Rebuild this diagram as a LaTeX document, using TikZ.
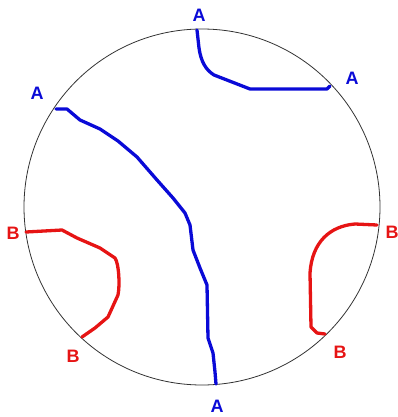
\documentclass[tikz,border=0pt]{standalone}
\usepackage{fontspec}
\setsansfont{Liberation Sans}
\usepackage{tikz}
\usetikzlibrary{positioning}

\definecolor{pathblue}{RGB}{10,10,215}
\definecolor{pathred}{RGB}{230,20,20}

\begin{document}
\begin{tikzpicture}[x=1pt,y=-1pt,
  lbl/.style={font=\sffamily\bfseries\fontsize{18}{18}\selectfont},
  bluepath/.style={pathblue,line width=3.3pt,line cap=round,line join=round},
  redpath/.style={pathred,line width=3.3pt,line cap=round,line join=round}]
\useasboundingbox (0,0) rectangle (398,417);

% outer circle
\draw[black!80,line width=0.8pt] (202,207) circle (178);

% blue curves (A to A)
\draw[bluepath] (197,30) -- (199,48) .. controls (201,62) and (206,70) .. (214,75)
                -- (250,89) -- (327,89) -- (330,86);
\draw[bluepath] (56,109) -- (67,109) -- (80,120) -- (100,129) -- (118,141)
                -- (137,157) -- (157,180) -- (173,198) -- (185,213)
                -- (190,225) -- (193,250) -- (200,268) -- (207,285)
                -- (208,338) -- (213,353) -- (215,372) -- (216,384);
\node[lbl,pathblue] (atop)   at (199,15)  {A};
\node[lbl,pathblue] (aright) at (352,78)  {A};
\node[lbl,pathblue] (aleft)  at (37,93)   {A};
\node[lbl,pathblue] (abot)   at (217,406) {A};

% red curves (B to B)
\draw[redpath] (26,232) -- (62,230) -- (77,238) -- (100,248) -- (115,258)
               .. controls (119,264) and (120,285) .. (118,295)
               -- (108,317) -- (95,328) -- (82,337);
\draw[redpath] (377,225) -- (355,224) .. controls (330,226) and (312,242) .. (310,273)
               -- (311,327) -- (317,333) -- (325,334);
\node[lbl,pathred] (bleft)   at (13,233)  {B};
\node[lbl,pathred] (bbotl)   at (73,356)  {B};
\node[lbl,pathred] (bright)  at (392,232) {B};
\node[lbl,pathred] (bbotr)   at (340,352) {B};
\end{tikzpicture}
\end{document}
